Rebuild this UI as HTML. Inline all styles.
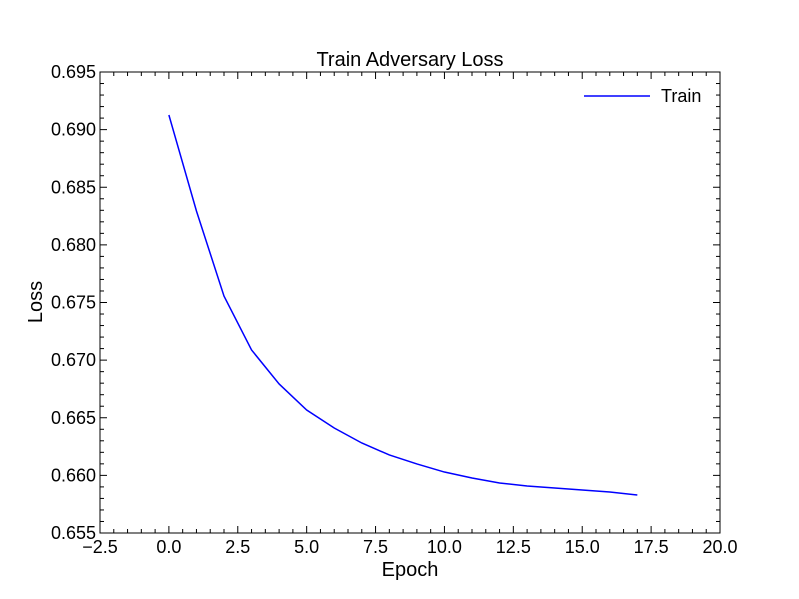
<!DOCTYPE html>
<html><head><meta charset="utf-8"><style>body{margin:0;background:#fff}svg{display:block;font-family:"Liberation Sans","DejaVu Sans",sans-serif}</style></head>
<body>
<svg id="chart" width="799" height="599" xmlns="http://www.w3.org/2000/svg">
<rect width="799" height="599" fill="#fff"/>
<g id="ticks"></g>
<path id="line" fill="none" stroke="#0000ff" stroke-width="1.5"/>
<rect x="100" y="72" width="620" height="461" fill="none" stroke="#000" stroke-width="1"/>
<text x="410" y="66" font-size="20" text-anchor="middle">Train Adversary Loss</text>
<text x="410" y="576" font-size="20" text-anchor="middle">Epoch</text>
<text transform="translate(42,302) rotate(-90)" font-size="20" text-anchor="middle">Loss</text>
<g>
<line x1="584" y1="96" x2="650" y2="96" stroke="#0000ff" stroke-width="1.5"/>
<text x="661" y="102" font-size="18">Train</text>
</g>
</svg>
<script>
const epochs=[0,1,2,3,4,5,6,7,8,9,10,11,12,13,14,15,16,17];
const loss=[0.69127,0.68294,0.67556,0.67088,0.66793,0.66567,0.66411,0.66281,0.66177,0.66099,0.66029,0.65977,0.65934,0.65908,0.65890,0.65873,0.65856,0.65830];
const xTicks=[-2.5,0,2.5,5,7.5,10,12.5,15,17.5,20];
const yTicks=[0.655,0.66,0.665,0.67,0.675,0.68,0.685,0.69,0.695];
const X0=100,X1=720,Y0=533,Y1=72;
const xs=v=>X0+(v+2.5)/22.5*(X1-X0);
const ys=v=>Y0-(v-0.655)/0.04*(Y0-Y1);
const NS="http://www.w3.org/2000/svg";
const g=document.getElementById('ticks');
function ln(x1,y1,x2,y2){const l=document.createElementNS(NS,'line');l.setAttribute('x1',x1);l.setAttribute('y1',y1);l.setAttribute('x2',x2);l.setAttribute('y2',y2);l.setAttribute('stroke','#000');l.setAttribute('stroke-width','1');


g.appendChild(l);}
function tx(x,y,s,a){const t=document.createElementNS(NS,'text');t.setAttribute('x',x);t.setAttribute('y',y);t.setAttribute('font-size','18');t.setAttribute('text-anchor',a);t.textContent=s;


g.appendChild(t);}
for(let i=0;i<=45;i++){const v=-2.5+i*0.5,x=xs(v);const L=(i%5==0)?7:4;ln(x,Y0,x,Y0-L);ln(x,Y1,x,Y1+L);}
xTicks.forEach(v=>tx(xs(v),553,v.toFixed(1).replace('-','\u2212'),'middle'));
for(let i=0;i<=40;i++){const v=0.655+i*0.001,y=ys(v);const L=(i%5==0)?7:4;ln(X0,y,X0+L,y);ln(X1,y,X1-L,y);}
yTicks.forEach(v=>tx(96,ys(v)+6,v.toFixed(3),'end'));
document.getElementById('line').setAttribute('d',epochs.map((e,i)=>(i?'L':'M')+xs(e)+','+ys(loss[i])).join(''));
</script>
</body></html>
